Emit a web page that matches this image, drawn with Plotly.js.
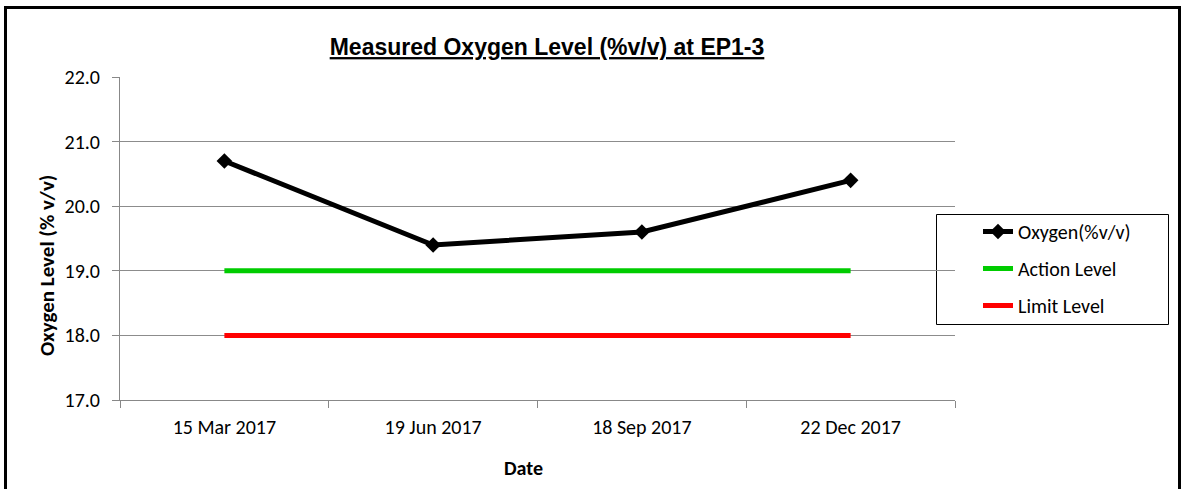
<!DOCTYPE html>
<html>
<head>
<meta charset="utf-8">
<script src="https://cdn.plot.ly/plotly-3.0.1.min.js"></script>
<style>
  html, body { margin: 0; padding: 0; background: #fff; }
  #wrap { position: relative; width: 1182px; height: 489px; overflow: hidden; }
  #chart { width: 1182px; height: 489px; }
  #frame { position: absolute; left: 4px; top: 6px; width: 1177px; height: 500px;
           border: 3px solid #000; pointer-events: none; box-sizing: border-box; }
</style>
</head>
<body>
<div id="wrap">
  <div id="chart"></div>
  <div id="frame"></div>
</div>
<script>
const dates = ["15 Mar 2017", "19 Jun 2017", "18 Sep 2017", "22 Dec 2017"];
const oxygen = [20.7, 19.4, 19.6, 20.4];
const actionLevel = [19.0, 19.0, 19.0, 19.0];
const limitLevel = [18.0, 18.0, 18.0, 18.0];
const seriesNames = ["Oxygen(%v/v)", "Action Level", "Limit Level"];
const chartTitle = "Measured Oxygen Level (%v/v) at EP1-3";
const xTitle = "Date";
const yTitle = "Oxygen Level (% v/v)";

const FONT = "Carlito, Calibri, Lato, 'Open Sans', sans-serif";

const traces = [
  { x: dates, y: oxygen, name: seriesNames[0], legendgroup: "g1", type: "scatter", mode: "lines+markers",
    line: { color: "#000000", width: 5 },
    marker: { symbol: "diamond", size: 12, color: "#000000" } },
  { x: dates, y: actionLevel, name: seriesNames[1], legendgroup: "g2", type: "scatter", mode: "lines",
    line: { color: "#00CC00", width: 5 } },
  { x: dates, y: limitLevel, name: seriesNames[2], legendgroup: "g3", type: "scatter", mode: "lines",
    line: { color: "#FF0000", width: 5 } }
];

const pl = 120, pr = 955, pt = 77, pb = 400;
const pw = pr - pl, ph = pb - pt;

const layout = {
  width: 1182, height: 489,
  margin: { l: pl, r: 1182 - pr, t: pt, b: 489 - pb },
  paper_bgcolor: "#ffffff", plot_bgcolor: "#ffffff",
  font: { family: FONT, size: 20, color: "#000" },
  showlegend: true,
  title: { text: "<u>" + chartTitle + "</u>",
           font: { family: "'Liberation Sans', Arial, sans-serif", size: 23, color: "#000", weight: "bold" },
           x: 547 / 1182, xanchor: "center", xref: "container",
           y: 1 - 47 / 489, yanchor: "middle", yref: "container" },
  xaxis: {
    type: "category", range: [-0.5, 3.5],
    showline: true, linecolor: "#888888", linewidth: 1,
    ticks: "outside", ticklen: 7, tickcolor: "#888888", tickson: "boundaries",
    showgrid: false, zeroline: false,
    tickfont: { family: FONT, size: 20, color: "#000" },
    ticklabelstandoff: 9
  },
  yaxis: {
    range: [17, 22], dtick: 1, tick0: 17, tickformat: ".1f",
    showline: true, linecolor: "#888888", linewidth: 1,
    ticks: "outside", ticklen: 7, tickcolor: "#888888",
    showgrid: true, gridcolor: "#8c8c8c", gridwidth: 1, zeroline: false,
    tickfont: { family: FONT, size: 20, color: "#000" },
    ticklabelstandoff: 8
  },
  annotations: [
    { text: "<b>" + xTitle + "</b>", xref: "paper", yref: "paper",
      x: (523 - pl) / pw, y: (pb - 468) / ph, xanchor: "center", yanchor: "middle",
      showarrow: false, font: { family: FONT, size: 20, color: "#000" } },
    { text: "<b>" + yTitle + "</b>", xref: "paper", yref: "paper", textangle: -90,
      x: (47 - pl) / pw, y: (pb - 266) / ph, xanchor: "center", yanchor: "middle",
      showarrow: false, font: { family: FONT, size: 21, color: "#000" } }
  ],
  legend: {
    x: (978 - pl) / pw, xanchor: "left",
    y: (pb - 212) / ph, yanchor: "top",
    borderwidth: 0, bgcolor: "rgba(0,0,0,0)",
    font: { family: FONT, size: 20, color: "#000" },
    itemwidth: 30, tracegroupgap: 8
  },
  shapes: [
    { type: "rect", xref: "paper", yref: "paper",
      x0: (936.5 - pl) / pw, x1: (1168.5 - pl) / pw,
      y0: (pb - 324.5) / ph, y1: (pb - 214.5) / ph,
      line: { color: "#000", width: 1 }, fillcolor: "rgba(0,0,0,0)", layer: "below" }
  ]
};

Plotly.newPlot("chart", traces, layout, { displayModeBar: false, staticPlot: true });
</script>
</body>
</html>
